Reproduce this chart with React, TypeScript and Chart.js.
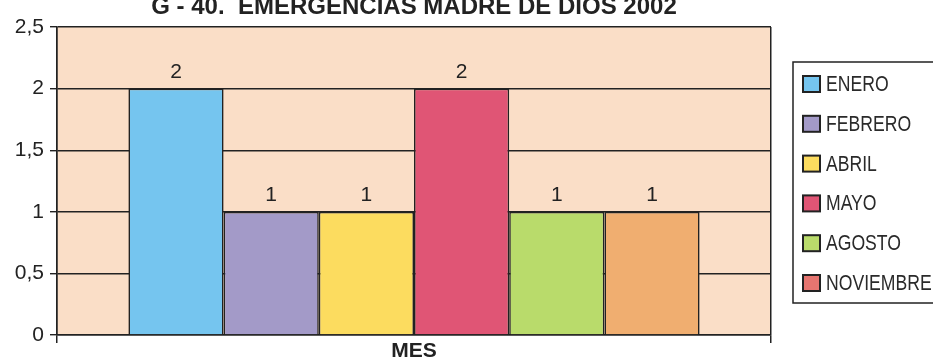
import React, { useEffect, useRef } from "react";
import { Chart, registerables } from "chart.js";

Chart.register(...registerables);

const chartTitle = "G - 40.  EMERGENCIAS MADRE DE DIOS 2002";
const axisTitle = "MES";
const categories = [""];
const months = ["ENERO", "FEBRERO", "ABRIL", "MAYO", "AGOSTO", "NOVIEMBRE"];
const values = [2, 1, 1, 2, 1, 1];
const barColors = ["#75C5EF", "#A39AC8", "#FCDC5F", "#E05575", "#B9DB6B", "#F0AE70"];
const legendColors = ["#75C5EF", "#A39AC8", "#FCDC5F", "#E05575", "#B9DB6B", "#E67570"];
const yMin = 0;
const yMax = 2.5;
const yStep = 0.5;

const INK = "#222222";
const FONT = "'Liberation Sans', Arial, sans-serif";

const decorPlugin = {
  id: "decor",
  beforeDraw(chart: any) {
    const { ctx, chartArea } = chart;
    ctx.save();
    ctx.fillStyle = "#ffffff";
    ctx.fillRect(0, 0, chart.width, chart.height);
    ctx.fillStyle = "#FADEC7";
    ctx.fillRect(chartArea.left, chartArea.top, chartArea.right - chartArea.left, chartArea.bottom - chartArea.top);
    ctx.restore();
  },
  afterDatasetsDraw(chart: any) {
    const { ctx } = chart;
    ctx.save();
    ctx.fillStyle = INK;
    ctx.font = `21px ${FONT}`;
    ctx.textAlign = "center";
    ctx.textBaseline = "bottom";
    chart.data.datasets.forEach((ds: any, i: number) => {
      const meta = chart.getDatasetMeta(i);
      meta.data.forEach((el: any, j: number) => {
        const v = ds.data[j];
        ctx.fillText(String(v).replace(".", ","), el.x, el.y - 6);
      });
    });
    ctx.restore();
  },
  afterDraw(chart: any) {
    const { ctx, chartArea } = chart;
    ctx.save();
    // title
    ctx.fillStyle = INK;
    ctx.font = `bold 24px ${FONT}`;
    ctx.textAlign = "center";
    ctx.textBaseline = "alphabetic";
    ctx.fillText(chartTitle, (chartArea.left + chartArea.right) / 2, 14);
    // legend
    const boxX = chartArea.right + 22;
    const boxY = 62;
    const boxH = 241;
    ctx.strokeStyle = INK;
    ctx.lineWidth = 1.5;
    ctx.strokeRect(boxX, boxY, 200, boxH);
    const rowH = 39.8;
    months.forEach((m, i) => {
      const cy = boxY + 22 + i * rowH;
      ctx.fillStyle = legendColors[i];
      ctx.fillRect(boxX + 10, cy - 8, 17, 16);
      ctx.strokeStyle = INK;
      ctx.lineWidth = 2;
      ctx.strokeRect(boxX + 10, cy - 8, 17, 16);
      ctx.save();
      ctx.translate(boxX + 33, cy + 1);
      ctx.scale(0.8, 1);
      ctx.font = `22px ${FONT}`;
      ctx.textAlign = "left";
      ctx.textBaseline = "middle";
      ctx.fillStyle = "#2a2a2a";
      ctx.fillText(m, 0, 0);
      ctx.restore();
    });
    ctx.restore();
  },
};

export default function App() {
  const ref = useRef<HTMLCanvasElement | null>(null);
  useEffect(() => {
    if (!ref.current) return;
    const chart = new Chart(ref.current, {
      type: "bar",
      data: {
        labels: categories,
        datasets: months.map((m, i) => ({
          label: m,
          data: [values[i]],
          backgroundColor: barColors[i],
          borderColor: INK,
          borderWidth: 1.6,
        })),
      },
      options: {
        animation: false,
        responsive: false,
        devicePixelRatio: 1,
        layout: { padding: { top: 27, right: 162, left: 0, bottom: 0 } },
        datasets: { bar: { categoryPercentage: 0.8, barPercentage: 1 } },
        plugins: {
          legend: { display: false },
          title: { display: false },
          tooltip: { enabled: false },
        },
        scales: {
          x: {
            grid: { display: true, color: INK, lineWidth: 1.5, tickLength: 8, offset: true },
            border: { display: true, color: INK, width: 1.5 },
            ticks: { display: false },
            title: {
              display: true,
              text: axisTitle,
              color: INK,
              font: { family: FONT, size: 21, weight: "bold", lineHeight: 1 },
              padding: { top: 0, bottom: 0 },
            },
            afterFit(scale: any) {
              scale.height = 27;
            },
          },
          y: {
            min: yMin,
            max: yMax,
            grid: { color: INK, lineWidth: 1.4, tickLength: 7 },
            border: { display: true, color: INK, width: 1.5 },
            ticks: {
              stepSize: yStep,
              color: INK,
              padding: 6,
              font: { family: FONT, size: 21 },
              callback: (v: any) => String(v).replace(".", ","),
            },
            afterFit(scale: any) {
              scale.width = 57;
            },
          },
        },
      },
      plugins: [decorPlugin],
    });
    return () => chart.destroy();
  }, []);
  return (
    <canvas
      ref={ref}
      width={933}
      height={362}
      style={{ position: "fixed", left: 0, top: 0, width: 933, height: 362, display: "block" }}
    />
  );
}
